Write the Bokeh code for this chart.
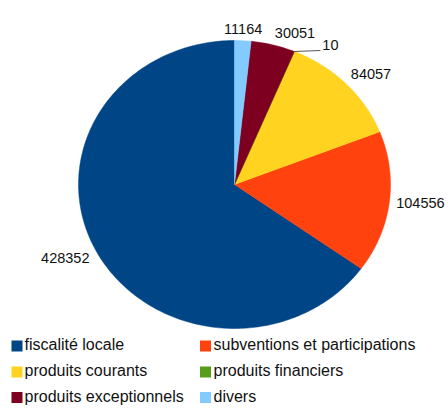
import numpy as np
from bokeh.plotting import figure
from bokeh.models import Range1d, ColumnDataSource
from bokeh.core.properties import value
from bokeh.embed import file_html
from bokeh.resources import INLINE

categories = ["fiscalité locale", "subventions et participations", "produits courants",
              "produits financiers", "produits exceptionnels", "divers"]
values = [428352, 104556, 84057, 10, 30051, 11164]
colors = ["#004586", "#ff420e", "#ffd320", "#579d1c", "#7e0021", "#83caff"]

W, H = 448, 412
CX, CY, RX, RY = 234, 184, 156, 144
FONT = "'Liberation Sans', Arial, sans-serif"

p = figure(width=W, height=H, x_range=Range1d(0, W), y_range=Range1d(H, 0),
           output_backend="svg", toolbar_location=None,
           x_axis_type=None, y_axis_type=None, min_border=0)
p.outline_line_color = None
p.background_fill_color = "white"

vals = np.array(values, dtype=float)
frac = vals / vals.sum()
cum = np.concatenate([[0], np.cumsum(frac)])
starts = np.pi / 2 + cum[:-1] * 2 * np.pi
ends = np.pi / 2 + cum[1:] * 2 * np.pi

xs, ys = [], []
for a0, a1 in zip(starts, ends):
    n = max(3, int(np.degrees(a1 - a0)) + 2)
    t = np.linspace(a0, a1, n)
    xs.append([CX] + list(CX + RX * np.cos(t)))
    ys.append([CY] + list(CY - RY * np.sin(t)))
p.patches(xs="xs", ys="ys", fill_color="color", line_color="color", line_width=0.5,
          source=ColumnDataSource(dict(xs=xs, ys=ys, color=colors)))

# data labels
lx, ly, lt, la, lb = [], [], [], [], []
pad = 7
for v, f, a0, a1 in zip(values, frac, starts, ends):
    m = (a0 + a1) / 2
    ex, ey = CX + RX * np.cos(m), CY - RY * np.sin(m)
    if f < 0.001:
        p.line(x=[ex, ex + 26], y=[ey, ey - 1], line_color="#555555", line_width=1)
        lx.append(ex + 28); ly.append(ey - 2); lt.append(str(v)); la.append("left"); lb.append("bottom")
        continue
    c, s = np.cos(m), np.sin(m)
    lx.append(ex + pad * c); ly.append(ey - pad * s); lt.append(str(v))
    la.append("left" if c > 0.2 else ("right" if c < -0.2 else "center"))
    lb.append("bottom" if s > 0.3 else ("top" if s < -0.3 else "middle"))
p.text(x="x", y="y", text="t", text_align="a", text_baseline="b",
       text_font=value(FONT), text_font_size="14.5px", text_color="#111111",
       source=ColumnDataSource(dict(x=lx, y=ly, t=lt, a=la, b=lb)))

# legend (two columns, row-major)
col_sq = [16.5, 205]
col_tx = [24, 213]
rows_mid = [345.5, 371.5, 397]
sx, sy, tx, ty = [], [], [], []
for i in range(len(categories)):
    r, c = divmod(i, 2)
    sx.append(col_sq[c]); sy.append(rows_mid[r])
    tx.append(col_tx[c]); ty.append(rows_mid[r] - 1.5)
p.rect(x=sx, y=sy, width=11, height=11, fill_color=colors, line_color=None)
p.text(x=tx, y=ty, text=categories, text_align="left", text_baseline="middle",
       text_font=value(FONT), text_font_size="16px", text_color="#111111")

open("out.html", "w").write(file_html(p, INLINE))
